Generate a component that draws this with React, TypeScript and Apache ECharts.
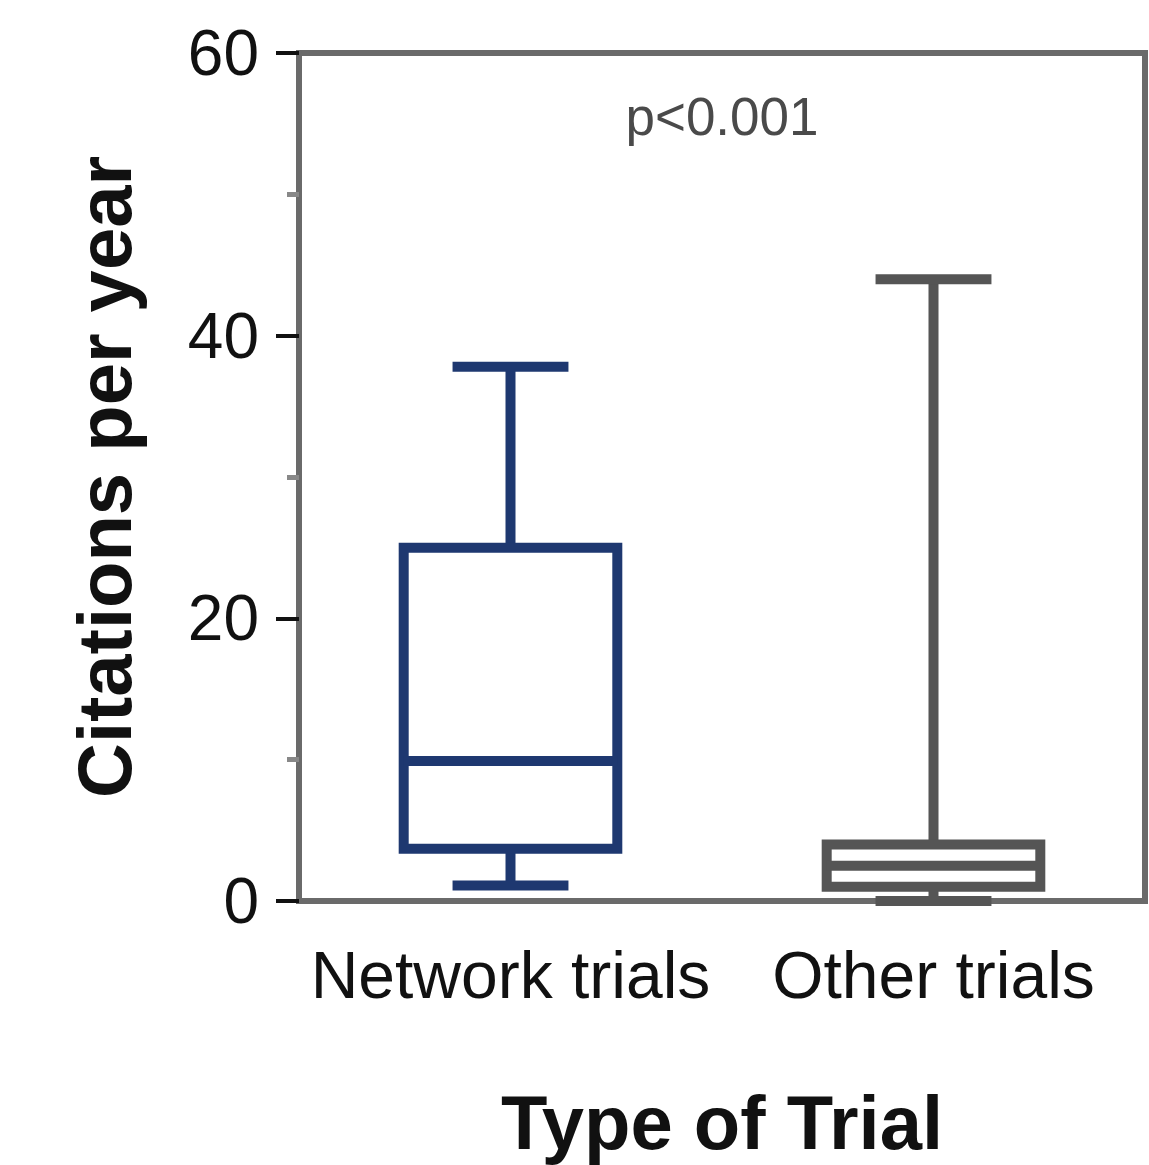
import React, { useEffect, useRef } from "react";
import * as echarts from "echarts";

const categories = ["Network trials", "Other trials"];
// [min, q1, median, q3, max]
const boxStats = [
  [1.1, 3.7, 9.9, 25.0, 37.8],
  [0.0, 1.0, 2.5, 4.0, 44.0],
];
const boxColors = ["#1e3870", "#555555"];
const yTicks = [0, 20, 40, 60];
const pValueText = "p<0.001";
const xTitle = "Type of Trial";
const yTitle = "Citations per year";

export default function App() {
  const ref = useRef<HTMLDivElement>(null);
  useEffect(() => {
    if (!ref.current) return;
    const chart = echarts.init(ref.current, null, { renderer: "svg" });
    const font = "'Liberation Sans', Arial, Helvetica, sans-serif";
    const data = boxStats.map((s, i) => [i, ...s]);
    chart.setOption({
      animation: false,
      backgroundColor: "#ffffff",
      grid: {
        left: 299,
        right: 4,
        top: 53,
        bottom: 262,
        show: true,
        borderColor: "#6a6a6a",
        borderWidth: 6,
        backgroundColor: "transparent",
      },
      xAxis: {
        type: "category",
        data: categories,
        boundaryGap: true,
        name: xTitle,
        nameLocation: "middle",
        nameGap: 183,
        nameTextStyle: { fontFamily: font, fontSize: 76, fontWeight: "bold", color: "#111" },
        axisLine: { show: true, lineStyle: { color: "#6a6a6a", width: 6 } },
        axisTick: { show: false },
        axisLabel: { interval: 0, hideOverlap: false, fontFamily: font, fontSize: 66, color: "#111", margin: 41 },
        splitLine: { show: false },
      },
      yAxis: {
        type: "value",
        min: yTicks[0],
        max: yTicks[yTicks.length - 1],
        interval: 20,
        name: yTitle,
        nameLocation: "middle",
        nameRotate: 90,
        nameGap: 157,
        nameTextStyle: { fontFamily: font, fontSize: 76, fontWeight: "bold", color: "#111" },
        axisLine: { show: true, lineStyle: { color: "#6a6a6a", width: 6 } },
        axisTick: { show: true, inside: false, length: 23, lineStyle: { color: "#111", width: 4 } },
        minorTick: { show: true, splitNumber: 2, length: 12, lineStyle: { color: "#888", width: 5 } },
        axisLabel: { fontFamily: font, fontSize: 64, color: "#111", margin: 40 },
        splitLine: { show: false },
        minorSplitLine: { show: false },
      },
      graphic: [
        {
          type: "text",
          x: 722,
          y: 90,
          style: {
            text: pValueText,
            fontFamily: font,
            fontSize: 53,
            fill: "#4a4a4a",
            textAlign: "center",
            textVerticalAlign: "top",
          },
        },
      ],
      series: [
        {
          type: "custom",
          data,
          encode: { x: 0, y: [1, 2, 3, 4, 5] },
          clip: false,
          renderItem: (params: any, api: any) => {
            const c = api.value(0);
            const pMin = api.coord([c, api.value(1)]);
            const pQ1 = api.coord([c, api.value(2)]);
            const pMed = api.coord([c, api.value(3)]);
            const pQ3 = api.coord([c, api.value(4)]);
            const pMax = api.coord([c, api.value(5)]);
            const band = api.size([1, 0])[0];
            const boxW = band * 0.505;
            const capW = band * 0.274;
            const cx = pMed[0];
            const color = boxColors[params.dataIndex];
            const st = { stroke: color, lineWidth: 10, fill: null };
            return {
              type: "group",
              children: [
                { type: "line", shape: { x1: cx, y1: pMax[1], x2: cx, y2: pQ3[1] }, style: st },
                { type: "line", shape: { x1: cx, y1: pQ1[1], x2: cx, y2: pMin[1] }, style: st },
                { type: "line", shape: { x1: cx - capW / 2, y1: pMax[1], x2: cx + capW / 2, y2: pMax[1] }, style: st },
                { type: "line", shape: { x1: cx - capW / 2, y1: pMin[1], x2: cx + capW / 2, y2: pMin[1] }, style: st },
                {
                  type: "rect",
                  shape: { x: cx - boxW / 2, y: pQ3[1], width: boxW, height: pQ1[1] - pQ3[1] },
                  style: { stroke: color, lineWidth: 10, fill: "#ffffff" },
                },
                { type: "line", shape: { x1: cx - boxW / 2, y1: pMed[1], x2: cx + boxW / 2, y2: pMed[1] }, style: st },
              ],
            };
          },
        },
      ],
    });
    return () => chart.dispose();
  }, []);
  return (
    <div
      ref={ref}
      style={{ position: "absolute", left: 0, top: 0, width: 1149, height: 1165 }}
    />
  );
}
